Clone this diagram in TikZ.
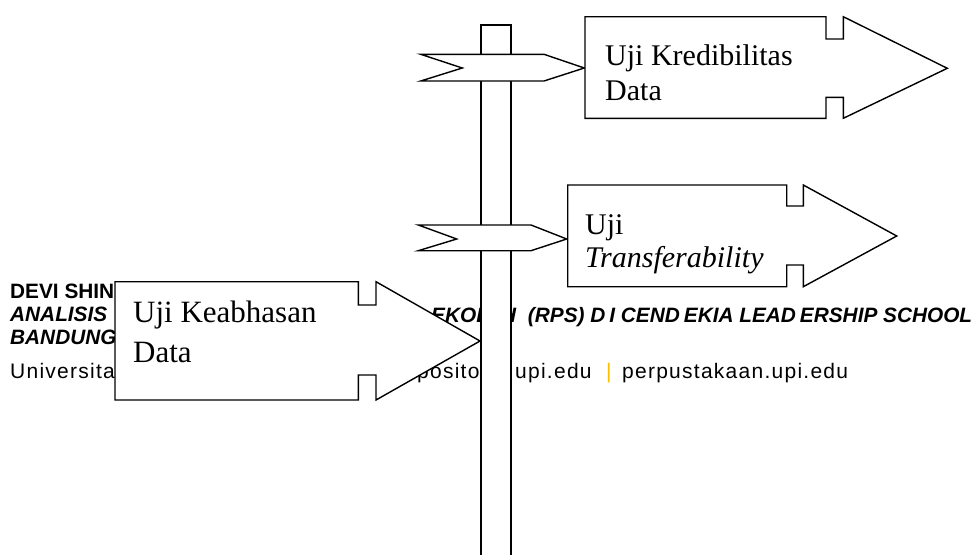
\documentclass[tikz,border=0pt]{standalone}
\usepackage{fontspec}
\setmainfont{Liberation Serif}
\newfontfamily\footfont[LetterSpace=6]{Liberation Sans}
\newfontfamily\footfontb{Liberation Sans}
\definecolor{barorange}{RGB}{255,190,0}
\begin{document}
\begin{tikzpicture}[x=1pt,y=-1pt,
  sign/.style={draw=black,line width=1.4pt,fill=white,line join=miter},
  polestyle/.style={draw=black,line width=1.8pt,fill=white},
  lbl/.style={anchor=base west,inner sep=0pt,font=\fontsize{30}{36}\selectfont},
  lblbig/.style={anchor=base west,inner sep=0pt,font=\fontsize{31}{37}\selectfont},
  foot/.style={anchor=base west,inner sep=0pt,font=\footfont\fontsize{21}{24}\selectfont},
  footb/.style={anchor=base west,inner sep=0pt,font=\footfontb\bfseries\fontsize{20.8}{24}\selectfont},
  footbi/.style={anchor=base west,inner sep=0pt,font=\footfontb\bfseries\itshape\fontsize{20.8}{24}\selectfont}]
\useasboundingbox (0,0) rectangle (976,554);
\fill[white] (0,0) rectangle (976,554);
% footer text (partly hidden)
\node[footb]  (f1) at (10,298) {DEVI SHIN};
\node[footbi] (f2) at (10,321) {ANALISIS};
\node[footbi] (f3) at (10,344) {BANDUNG};
\node[foot]   (f4) at (10,378) {Universita};
\node[footbi] (f5) at (431,322) {EKOL};
\node[footbi] (f6) at (501,322) {H\hspace{6pt} (RPS) D\kern4pt I CEND\kern4pt EKIA LEAD\kern4pt ERSHIP SCHOOL};
\node[foot]   (f7) at (417,378) {posito};
\node[foot]   (f8) at (515,378) {upi.edu};
\node[foot,text=barorange] (f9) at (606,378) {|};
\node[foot]   (f10) at (622,378) {perpustakaan.upi.edu};
% pole
\draw[polestyle] (481,565) -- (481,25) -- (511,25) -- (511,565);
\fill[white] (482,26) rectangle (510,560);
% small signs on the pole
\draw[sign] (420.7,54.3) -- (544,54.3) -- (584.3,68) -- (544,81) -- (420.7,81) -- (462.3,68) -- cycle;
\draw[sign] (418.3,225) -- (531,225) -- (566.7,239) -- (531,250.7) -- (418.3,250.7) -- (456.7,239) -- cycle;
% big arrows
\draw[sign] (585,16.7) -- (826,16.7) -- (826,39) -- (843.3,39) -- (843.3,16.7) -- (947.3,68.3)
  -- (843.3,118.3) -- (843.3,97.3) -- (826,97.3) -- (826,118.3) -- (585,118.3) -- cycle;
\draw[sign] (567.7,185) -- (786.7,185) -- (786.7,206) -- (803.3,206) -- (803.3,185) -- (896.7,236)
  -- (803.3,286.7) -- (803.3,265) -- (786.7,265) -- (786.7,286.7) -- (567.7,286.7) -- cycle;
\draw[sign] (115,281.7) -- (358.3,281.7) -- (358.3,305) -- (376,305) -- (376,281.7) -- (480,341)
  -- (376,400) -- (376,375) -- (358.3,375) -- (358.3,400) -- (115,400) -- cycle;
% labels
\node[lbl] (t1a) at (605,65) {Uji Kredibilitas};
\node[lbl] (t1b) at (605,100) {Data};
\node[lbl] (t2a) at (585,234) {Uji};
\node[lbl] (t2b) at (585,267) {\textit{Transferability}};
\node[lblbig] (t3a) at (133,322) {Uji Keabhasan};
\node[lblbig] (t3b) at (133,362) {Data};
\end{tikzpicture}
\end{document}
